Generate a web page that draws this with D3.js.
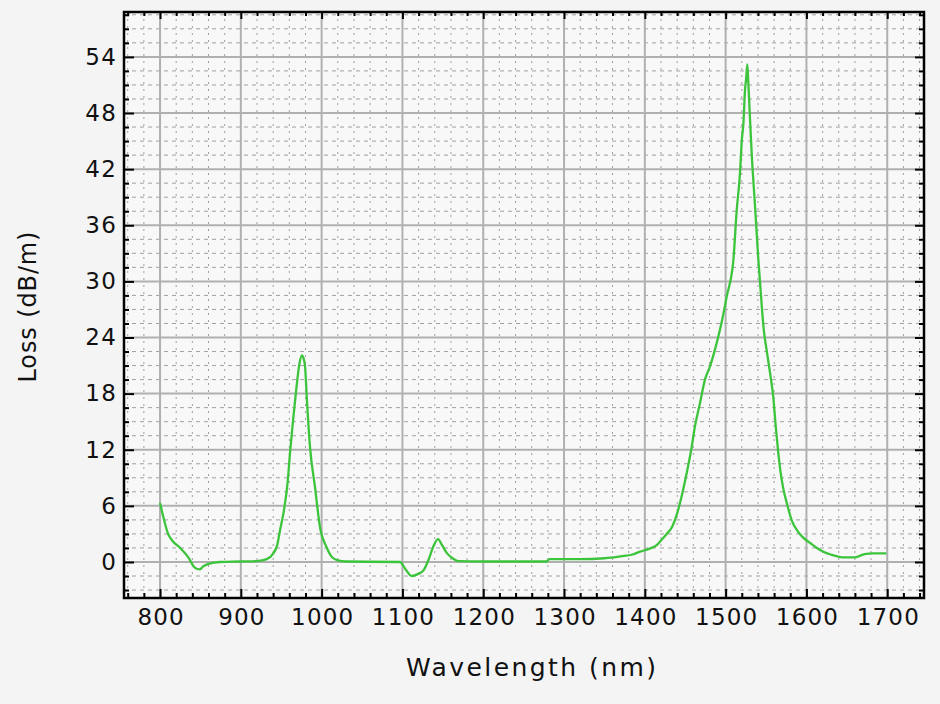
<!DOCTYPE html>
<html>
<head>
<meta charset="utf-8">
<script src="https://cdn.jsdelivr.net/npm/d3@7"></script>
<style>
  html, body { margin: 0; padding: 0; background: #f4f4f4; }
  svg { display: block; }
  text { font-family: "DejaVu Sans", Verdana, sans-serif; fill: #111; }
</style>
</head>
<body>
<svg id="chart" width="940" height="704"></svg>
<script>
// ---- data ----
const wavelength = [800, 805, 810, 815, 825, 835, 843, 849, 853, 860, 874, 900, 920, 932, 940, 945, 948.5, 953.5, 958, 961, 964.5, 968.5, 972.5, 975.7, 977.5, 979.5, 981.6, 985.6, 991.8, 998, 1006, 1012, 1019, 1030, 1097, 1104, 1111.5, 1119, 1126, 1133, 1138, 1144, 1149, 1155, 1162, 1169, 1200, 1278, 1282, 1320, 1350, 1370, 1385, 1394, 1405, 1414.7, 1421, 1427, 1434, 1440, 1446, 1452, 1458, 1462, 1468.3, 1474.4, 1480.6, 1488.9, 1495, 1501.4, 1509.6, 1513.7, 1517.8, 1520, 1522, 1524, 1525.3, 1526.9, 1528.1, 1530.2, 1532.3, 1536.4, 1540.5, 1544.6, 1547, 1551, 1555, 1559, 1562, 1565, 1568, 1571, 1576, 1582, 1590, 1596, 1605, 1613, 1621, 1630, 1645, 1660, 1672, 1683, 1699];
const loss = [6.3, 4.5, 3.0, 2.3, 1.5, 0.5, -0.6, -0.8, -0.5, -0.2, 0.0, 0.05, 0.1, 0.3, 0.9, 1.8, 3.4, 5.6, 8.6, 11.8, 15.0, 18.4, 21.2, 22.1, 21.8, 20.9, 17.6, 12.3, 8.0, 3.7, 1.6, 0.6, 0.2, 0.05, 0.0, -0.8, -1.5, -1.3, -0.9, 0.4, 1.6, 2.45, 1.8, 0.95, 0.4, 0.1, 0.05, 0.05, 0.3, 0.3, 0.4, 0.6, 0.8, 1.1, 1.4, 1.8, 2.4, 3.0, 3.8, 5.2, 7.2, 9.6, 12.3, 14.5, 17.0, 19.5, 20.9, 23.4, 25.6, 28.4, 32.3, 37.6, 41.6, 45.1, 46.9, 50.5, 51.6, 53.2, 51.2, 47.3, 43.6, 38.0, 32.3, 27.5, 25.0, 22.5, 20.2, 17.6, 14.5, 11.8, 9.6, 8.0, 6.2, 4.4, 3.2, 2.6, 2.0, 1.5, 1.1, 0.8, 0.5, 0.5, 0.85, 0.93, 0.93];
const xTicks = [800, 900, 1000, 1100, 1200, 1300, 1400, 1500, 1600, 1700];
const yTicks = [0, 6, 12, 18, 24, 30, 36, 42, 48, 54];
const xTitle = "Wavelength (nm)";
const yTitle = "Loss (dB/m)";

// ---- layout ----
const L = 124, R = 924, T = 12, B = 598;
const svg = d3.select("#chart");
const x = d3.scaleLinear().domain([755.4, 1745.5]).range([L, R]);
const y = d3.scaleLinear().domain([-3.85, 58.8]).range([B, T]);

const xMinor = d3.range(760, 1745, 20).filter(v => v % 100 !== 0);
const yMinor = d3.range(-3, 58.6, 1.5).filter(v => Math.abs(v / 6 - Math.round(v / 6)) > 1e-6);

svg.append("rect").attr("x", L).attr("y", T).attr("width", R - L).attr("height", B - T).attr("fill", "#f8f8f8");

// minor grid
const g = svg.append("g");
g.selectAll(".vx").data(xMinor).join("line")
  .attr("x1", d => x(d)).attr("x2", d => x(d)).attr("y1", T).attr("y2", B)
  .attr("stroke", "#a0a0a0").attr("stroke-width", 1).attr("stroke-dasharray", "2,5");
g.selectAll(".hy").data(yMinor).join("line")
  .attr("y1", d => y(d)).attr("y2", d => y(d)).attr("x1", L).attr("x2", R)
  .attr("stroke", "#a0a0a0").attr("stroke-width", 1).attr("stroke-dasharray", "4,4");
// major grid
g.selectAll(".mx").data(xTicks).join("line")
  .attr("x1", d => x(d)).attr("x2", d => x(d)).attr("y1", T).attr("y2", B)
  .attr("stroke", "#b0b0b0").attr("stroke-width", 2);
g.selectAll(".my").data(yTicks).join("line")
  .attr("y1", d => y(d)).attr("y2", d => y(d)).attr("x1", L).attr("x2", R)
  .attr("stroke", "#b0b0b0").attr("stroke-width", 2);

// curve
const pts = wavelength.map((w, i) => [w, loss[i]]);
svg.append("path").datum(pts)
  .attr("fill", "none").attr("stroke", "#3cc43c").attr("stroke-width", 2.3)
  .attr("stroke-linejoin", "round")
  .attr("d", d3.line().x(d => x(d[0])).y(d => y(d[1])).curve(d3.curveMonotoneX));

// axes with inward ticks (major + minor), on all four sides
function styleAxis(sel) {
  sel.select(".domain").remove();
  sel.selectAll("line").attr("stroke", "#000").attr("stroke-width", 2);
}
const axB = svg.append("g").attr("transform", `translate(0,${B})`)
  .call(d3.axisBottom(x).tickValues(xTicks).tickSize(-9).tickPadding(11).tickFormat(d3.format("d")));
styleAxis(axB);
axB.selectAll("text").attr("font-size", 23).attr("letter-spacing", "1.2px").attr("dx", "0.6px")
  .attr("font-family", "DejaVu Sans").attr("fill", "#000");
const axBm = svg.append("g").attr("transform", `translate(0,${B})`)
  .call(d3.axisBottom(x).tickValues(xMinor).tickSize(-5).tickFormat(""));
styleAxis(axBm);

const axT = svg.append("g").attr("transform", `translate(0,${T})`)
  .call(d3.axisTop(x).tickValues(xTicks).tickSize(-7).tickFormat(""));
styleAxis(axT);
const axTm = svg.append("g").attr("transform", `translate(0,${T})`)
  .call(d3.axisTop(x).tickValues(xMinor).tickSize(-4).tickFormat(""));
styleAxis(axTm);

const axLf = svg.append("g").attr("transform", `translate(${L},0)`)
  .call(d3.axisLeft(y).tickValues(yTicks).tickSize(-10).tickPadding(7).tickFormat(d3.format("d")));
styleAxis(axLf);
axLf.selectAll("text").attr("font-size", 23).attr("letter-spacing", "1.2px")
  .attr("font-family", "DejaVu Sans").attr("fill", "#000");
const axLm = svg.append("g").attr("transform", `translate(${L},0)`)
  .call(d3.axisLeft(y).tickValues(yMinor).tickSize(-5).tickFormat(""));
styleAxis(axLm);

const axRt = svg.append("g").attr("transform", `translate(${R},0)`)
  .call(d3.axisRight(y).tickValues(yTicks).tickSize(-9).tickFormat(""));
styleAxis(axRt);
const axRm = svg.append("g").attr("transform", `translate(${R},0)`)
  .call(d3.axisRight(y).tickValues(yMinor).tickSize(-5).tickFormat(""));
styleAxis(axRm);

// frame
svg.append("rect").attr("x", L).attr("y", T).attr("width", R - L).attr("height", B - T)
  .attr("fill", "none").attr("stroke", "#000").attr("stroke-width", 2.5);

// titles
svg.append("text").attr("x", 531).attr("y", 676).attr("text-anchor", "middle")
  .attr("font-size", 25).attr("textLength", 250).attr("lengthAdjust", "spacing")
  .attr("fill", "#111").text(xTitle);
svg.append("text").attr("transform", "translate(36,307) rotate(-90)").attr("text-anchor", "middle")
  .attr("font-size", 24).attr("textLength", 151).attr("lengthAdjust", "spacing")
  .attr("fill", "#111").text(yTitle);
</script>
</body>
</html>
